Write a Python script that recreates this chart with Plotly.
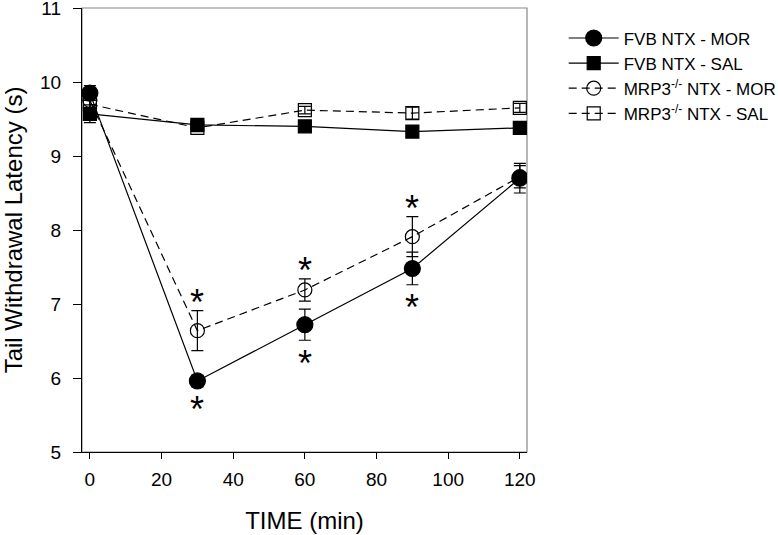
import plotly.graph_objects as go

time = [0, 30, 60, 90, 120]

fvb_mor = [9.85, 5.96, 6.72, 7.48, 8.70]
fvb_mor_err = [0.10, 0.08, 0.21, 0.22, 0.20]
fvb_sal = [9.57, 9.42, 9.40, 9.33, 9.38]
fvb_sal_err = [0.12, 0.05, 0.05, 0.06, 0.06]
mrp_mor = [9.75, 6.64, 7.19, 7.91, 8.72]
mrp_mor_err = [0.15, 0.27, 0.15, 0.27, 0.15]
mrp_sal = [9.70, 9.38, 9.62, 9.58, 9.65]
mrp_sal_err = [0.08, 0.05, 0.05, 0.08, 0.06]

sig_times = [30, 60, 90]

names = ["FVB NTX - MOR", "FVB NTX - SAL",
         "MRP3<sup>-/-</sup> NTX - MOR", "MRP3<sup>-/-</sup> NTX - SAL"]

FONT = "Liberation Sans, Arial, sans-serif"

fig = go.Figure()

def add(x, y, e, name, symbol, size, dash, rank):
    fig.add_trace(go.Scatter(
        x=x, y=y, name=name, mode="lines+markers", legendrank=rank,
        line=dict(color="black", width=1.2, dash=dash),
        marker=dict(symbol=symbol, size=size, color="black",
                    line=dict(color="black", width=1.2)),
        error_y=dict(type="data", array=e, visible=True, color="black",
                     thickness=1.2, width=6),
    ))

add(time, mrp_sal, mrp_sal_err, names[3], "square-open", 13, "8px,5px", 4)
add(time, mrp_mor, mrp_mor_err, names[2], "circle-open", 14, "8px,5px", 3)
add(time, fvb_sal, fvb_sal_err, names[1], "square", 13, "solid", 2)
add(time, fvb_mor, fvb_mor_err, names[0], "circle", 16, "solid", 1)

# significance stars
for t in sig_times:
    i = time.index(t)
    fig.add_annotation(x=t, y=mrp_mor[i] + mrp_mor_err[i], text="*",
                       showarrow=False, yshift=8, yanchor="middle",
                       font=dict(size=36, family=FONT, color="black"))
    fig.add_annotation(x=t, y=fvb_mor[i] - fvb_mor_err[i], text="*",
                       showarrow=False, yshift=-23, yanchor="middle",
                       font=dict(size=36, family=FONT, color="black"))

# frame (top/right in grey)
fig.add_shape(type="rect", xref="paper", yref="paper", x0=0, y0=0, x1=1, y1=1,
              line=dict(color="#888888", width=1.2), layer="below")

fig.update_layout(
    width=778, height=535,
    margin=dict(l=82, r=251, t=8, b=83, autoexpand=False),
    paper_bgcolor="white", plot_bgcolor="white",
    font=dict(family=FONT, color="black"),
    showlegend=True,
    legend=dict(x=1.0825, y=0.972, xanchor="left", yanchor="top",
                font=dict(size=17, family=FONT), itemwidth=50,
                tracegroupgap=0, bgcolor="rgba(0,0,0,0)"),
    xaxis=dict(range=[-2.2, 122], tickvals=[0, 20, 40, 60, 80, 100, 120],
               showgrid=False, zeroline=False, showline=True,
               linecolor="black", linewidth=1.2, automargin=False,
               ticks="outside", ticklen=6, tickcolor="black",
               ticklabelstandoff=4, ticklabeloverflow="allow",
               tickfont=dict(size=19, family=FONT),
               title=dict(text="TIME (min)", font=dict(size=24, family=FONT),
                          standoff=23)),
    yaxis=dict(range=[5, 11], tickvals=[5, 6, 7, 8, 9, 10, 11],
               showgrid=False, zeroline=False, showline=True,
               linecolor="black", linewidth=1.2, automargin=False,
               ticks="outside", ticklen=8, tickcolor="black",
               ticklabelstandoff=8, ticklabeloverflow="allow",
               tickfont=dict(size=19, family=FONT),
               title=dict(text="Tail Withdrawal Latency (s)",
                          font=dict(size=24, family=FONT), standoff=12)),
)

fig.write_html("out.html", config={"displayModeBar": False},
               post_script="document.body.style.margin='0';document.body.style.padding='0';")
